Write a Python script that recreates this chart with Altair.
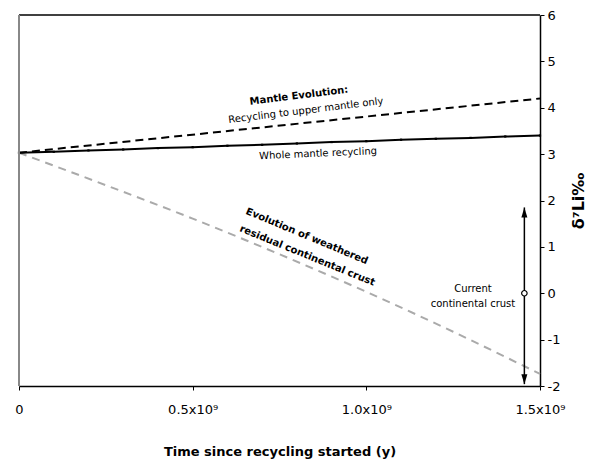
import altair as alt
import pandas as pd

FONT = "DejaVu Sans"

# ---- data ----
time_crust = [0, 0.25e9, 0.5e9, 0.75e9, 1.0e9, 1.25e9, 1.5e9]
crust_d7li = [3.03, 2.33, 1.61, 0.84, 0.03, -0.83, -1.74]

time_upper = [0, 1.5e9]
upper_d7li = [3.03, 4.20]

time_whole = [0, 1e8, 2e8, 3e8, 4e8, 5e8, 6e8, 7e8, 8e8, 9e8, 1.0e9, 1.1e9, 1.2e9, 1.3e9, 1.4e9, 1.5e9]
whole_d7li = [3.03, 3.05, 3.08, 3.10, 3.13, 3.15, 3.18, 3.20, 3.23, 3.26, 3.28, 3.31, 3.33, 3.35, 3.38, 3.40]

crust_now_time = 1.455e9
crust_now_d7li = 0.0
range_top = 1.85
range_bottom = -1.96

x_ticks = [0, 0.5e9, 1.0e9, 1.5e9]
x_tick_labels = ["0", "0.5x10⁹", "1.0x10⁹", "1.5x10⁹"]
y_ticks = [-2, -1, 0, 1, 2, 3, 4, 5, 6]

labels_text = ["Mantle Evolution:", "Recycling to upper mantle only", "Whole mantle recycling",
               "Evolution of weathered", "residual continental crust",
               "Current", "continental crust"]
labels_x = [0.806e9, 0.826e9, 0.861e9, 0.829e9, 0.830e9, 1.307e9, 1.307e9]
labels_y = [4.26, 3.94, 3.01, 1.23, 0.81, 0.09, -0.24]
labels_angle = [353, 353, 357.5, 22.6, 22.2, 0, 0]
labels_bold = [True, False, False, True, True, False, False]

# ---- tables ----
crust_df = pd.DataFrame({"t": time_crust, "v": crust_d7li})
upper_df = pd.DataFrame({"t": time_upper, "v": upper_d7li})
whole_df = pd.DataFrame({"t": time_whole, "v": whole_d7li})
now_df = pd.DataFrame({"t": [crust_now_time], "v": [crust_now_d7li],
                       "top": [range_top], "bottom": [range_bottom]})
lab_df = pd.DataFrame({"t": labels_x, "v": labels_y, "text": labels_text,
                       "angle": labels_angle, "bold": labels_bold})

label_map = "{" + ",".join(f"'{int(v)}':'{l}'" for v, l in zip(x_ticks, x_tick_labels)) + "}"
x_label_expr = f"{label_map}[toString(datum.value)]"

xscale = alt.Scale(domain=[0, 1.5e9], nice=False, zero=False)
yscale = alt.Scale(domain=[-2, 6], nice=False, zero=False)

x_enc = alt.X("t:Q", scale=xscale,
              axis=alt.Axis(values=x_ticks, labelExpr=x_label_expr, title="Time since recycling started (y)",
                            orient="bottom", grid=False, domainColor="black", domainWidth=1.5,
                            tickColor="black", tickSize=4, labelPadding=13, labelFontSize=13,
                            labelFont=FONT, labelColor="black", titleFont=FONT, titleFontSize=13,
                            titleFontWeight="bold", titleColor="black", titlePadding=29,
                            labelFlush=False))
y_enc = alt.Y("v:Q", scale=yscale,
              axis=alt.Axis(values=y_ticks, labelExpr="datum.value + ''", title="δ⁷Li‰",
                            orient="right", grid=False, domainColor="black", domainWidth=1.5,
                            tickColor="black", tickSize=4, labelPadding=3, labelFontSize=13,
                            labelFont=FONT, labelColor="black", titleFont=FONT, titleFontSize=16,
                            titleFontWeight="bold", titleColor="black", titleAngle=270,
                            titlePadding=27, labelFlush=False))

base_x = alt.X("t:Q", scale=xscale)
base_y = alt.Y("v:Q", scale=yscale)

crust = alt.Chart(crust_df).mark_line(color="#aaaaaa", strokeWidth=2, strokeDash=[8, 6],
                                      interpolate="monotone").encode(x=x_enc, y=y_enc)
upper = alt.Chart(upper_df).mark_line(color="black", strokeWidth=2, strokeDash=[8, 5]).encode(x=base_x, y=base_y)
whole = alt.Chart(whole_df).mark_line(color="black", strokeWidth=2).encode(x=base_x, y=base_y)
whole_pts = alt.Chart(whole_df).mark_point(shape="square", filled=True, size=5, color="black",
                                           opacity=1).encode(x=base_x, y=base_y)

rng = alt.Chart(now_df).mark_rule(color="black", strokeWidth=1.5).encode(
    x=base_x, y=alt.Y("top:Q", scale=yscale), y2="bottom:Q")
head_up = alt.Chart(now_df).mark_point(shape="M0,-1L-0.6,1L0.6,1Z", filled=True, size=100,
                                       color="black", opacity=1, yOffset=5).encode(
    x=base_x, y=alt.Y("top:Q", scale=yscale))
head_down = alt.Chart(now_df).mark_point(shape="M0,1L-0.6,-1L0.6,-1Z", filled=True, size=100,
                                         color="black", opacity=1, yOffset=-5).encode(
    x=base_x, y=alt.Y("bottom:Q", scale=yscale))
circ = alt.Chart(now_df).mark_point(shape="circle", size=30, filled=False, color="black",
                                    fill="white", fillOpacity=1, strokeWidth=1.2, opacity=1).encode(
    x=base_x, y=base_y)

texts_bold = alt.Chart(lab_df).transform_filter("datum.bold").mark_text(
    font=FONT, fontSize=10, fontWeight="bold", color="black", align="center", baseline="middle").encode(
    x=base_x, y=base_y, text="text:N", angle=alt.Angle("angle:Q", scale=None))
texts_norm = alt.Chart(lab_df).transform_filter("!datum.bold").mark_text(
    font=FONT, fontSize=10, color="black", align="center", baseline="middle").encode(
    x=base_x, y=base_y, text="text:N", angle=alt.Angle("angle:Q", scale=None))

frame_top = alt.Chart(pd.DataFrame({"a": [0]})).mark_rule(color="black", strokeWidth=1.5).encode(
    y=alt.datum(6, scale=yscale), x=alt.datum(0, scale=xscale), x2=alt.datum(1.5e9))
frame_left = alt.Chart(pd.DataFrame({"a": [0]})).mark_rule(color="#888888", strokeWidth=2).encode(
    x=alt.datum(0, scale=xscale), y=alt.datum(-2, scale=yscale), y2=alt.datum(6))

chart = alt.layer(crust, upper, whole, whole_pts, rng, head_up, head_down, circ, texts_bold, texts_norm,
                  frame_top, frame_left).properties(
    width=521, height=371,
    autosize=alt.AutoSizeParams(type="none"),
    padding={"left": 11, "top": 7, "right": 51, "bottom": 74},
    background="white",
).configure_view(stroke=None)

chart.save("out.html", embed_options={"renderer": "svg", "actions": False})
